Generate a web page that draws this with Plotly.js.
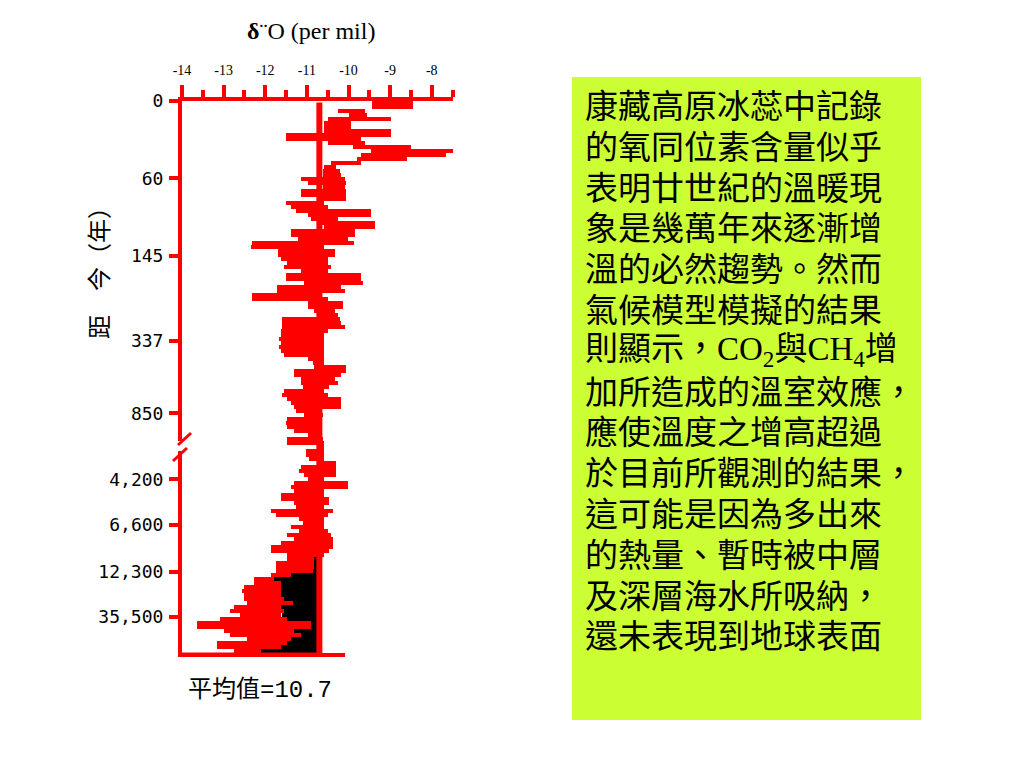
<!DOCTYPE html>
<html><head><meta charset="utf-8">
<script src="https://cdn.plot.ly/plotly-3.0.1.min.js"></script>
<style>html,body{margin:0;padding:0;background:#fff}#chart{width:1024px;height:768px}</style>
</head><body><div id="chart"></div>
<script>
// ---------------- data ----------------
const meanValue = -10.7;
const meanLabel = '平均值=10.7';
const chartTitle = '<b>δ</b>¨O (per mil)';
const yTitle = '距　今（年）';
const xTickValues = [-14, -13, -12, -11, -10, -9, -8];
const xTickLabels = ['-14', '-13', '-12', '-11', '-10', '-9', '-8'];
const ageTickLabels = ['0', '60', '145', '337', '850', '4,200', '6,600', '12,300', '35,500'];
const ageTickRows = [0, 19.3, 38.7, 60, 78.1, 94.6, 106, 117.7, 128.9];

// per depth row: lowest and highest δ18O reached (per mil)
const rowLow = [
 -9.43,-9.43,-10.25,-10.0,-10.5,-10.58,-10.58,-10.58,-11.5,-11.5,
 -10.5,-9.9,-9.45,-9.69,-9.8,-10.42,-10.58,-10.62,-10.62,-11.14,
 -10.98,-10.62,-11.14,-11.14,-10.66,-11.51,-11.39,-11.27,-10.98,-10.9,
 -10.66,-10.58,-11.39,-11.39,-11.22,-12.33,-12.35,-11.7,-11.7,-11.62,
 -11.47,-11.55,-11.14,-11.51,-11.51,-11.06,-11.71,-11.71,-12.31,-12.31,
 -10.98,-10.98,-10.82,-10.74,-11.59,-11.59,-11.59,-11.63,-11.63,-11.67,
 -11.63,-11.67,-11.63,-11.55,-10.98,-10.86,-10.82,-11.3,-11.3,-11.14,
 -11.14,-11.1,-11.55,-11.59,-11.47,-11.39,-11.3,-11.26,-11.06,-11.47,
 -11.51,-11.47,-11.3,-10.98,-11.47,-11.47,-10.74,-11.02,-11.02,-10.94,
 -10.7,-11.14,-11.18,-11.06,-10.98,-11.3,-11.39,-11.3,-11.63,-11.63,
 -11.3,-11.26,-11.87,-11.75,-11.18,-11.1,-11.39,-11.18,-11.47,-11.3,
 -11.63,-11.87,-11.87,-11.47,-11.47,-11.75,-11.75,-11.75,-11.87,-12.27,
 -12.27,-12.51,-12.55,-12.51,-12.51,-12.43,-12.76,-12.84,-12.6,-13.08,
 -13.64,-13.64,-13.0,-12.84,-12.43,-13.16,-13.16,-12.76,-10.7
];
const rowHigh = [
 -8.45,-8.45,-9.6,-9.55,-8.97,-9.93,-9.93,-8.97,-8.97,-9.69,
 -9.6,-8.5,-7.47,-7.65,-8.6,-9.7,-10.3,-10.2,-10.17,-10.09,
 -10.05,-10.09,-10.05,-10.05,-10.05,-10.58,-10.5,-9.45,-9.45,-10.25,
 -9.37,-9.37,-9.85,-9.85,-10.01,-9.86,-10.6,-10.33,-10.33,-10.5,
 -10.5,-10.42,-10.5,-9.69,-9.69,-9.65,-10.17,-10.09,-10.66,-10.5,
 -10.13,-10.13,-10.33,-10.25,-10.21,-10.17,-10.09,-10.5,-10.58,-10.58,
 -10.58,-10.58,-10.58,-10.58,-10.58,-10.58,-10.05,-10.05,-10.17,-10.33,
 -10.25,-10.46,-10.58,-10.5,-10.17,-10.17,-10.17,-10.66,-10.62,-10.66,
 -10.66,-10.66,-10.66,-10.66,-10.62,-10.58,-10.58,-10.58,-10.58,-10.58,
 -10.3,-10.3,-10.3,-10.3,-10.58,-10.01,-10.01,-10.58,-10.58,-10.46,
 -10.46,-10.58,-10.38,-10.5,-10.58,-10.58,-10.58,-10.5,-10.42,-10.38,
 -10.38,-10.38,-10.46,-10.58,-10.82,-10.82,-10.82,-10.86,-11.39,-11.79,
 -11.63,-11.63,-11.63,-11.63,-11.55,-11.34,-11.63,-11.55,-11.63,-11.47,
 -10.9,-10.9,-11.3,-11.14,-11.39,-11.47,-11.63,-12.11,-10.09
];
// black shaded envelope (glacial part), rows starting at blackStartRow
const blackStartRow = 114;
const blackEdge = [
 -10.98,-11.3,-11.45,-11.55,-11.7,-11.8,-11.8,-11.8,-11.75,-11.7,
 -11.7,-11.65,-11.65,-11.6,-11.6,-11.6,-11.6,-11.65,-11.7,-11.8,
 -11.9,-12.0,-12.1,-12.15
];
const textLines = [
 '康藏高原冰蕊中記錄',
 '的氧同位素含量似乎',
 '表明廿世紀的溫暖現',
 '象是幾萬年來逐漸增',
 '溫的必然趨勢。然而',
 '氣候模型模擬的結果',
 '則顯示，CO<sub>2</sub>與CH<sub>4</sub>增',
 '加所造成的溫室效應，',
 '應使溫度之增高超過',
 '於目前所觀測的結果，',
 '這可能是因為多出來',
 '的熱量、暫時被中層',
 '及深層海水所吸納，',
 '還未表現到地球表面'
];

// ---------------- layout helpers ----------------
const PL = 182, PR = 453, PT = 101, PB = 657;
const nRows = rowLow.length;
const px = p => (p - PL) / (PR - PL);
const py = p => (PB - p) / (PB - PT);

const rowsY = rowLow.map((_, i) => i + 0.5);
const blackY = blackEdge.map((_, i) => blackStartRow + i + 0.5);

const traces = [
  {
    type: 'bar', orientation: 'h',
    y: blackY,
    base: blackEdge,
    x: blackEdge.map(v => meanValue - v),
    width: 1,
    marker: {color: '#000000', line: {width: 0}},
    hoverinfo: 'skip', showlegend: false
  },
  {
    type: 'bar', orientation: 'h',
    y: rowsY,
    base: rowLow,
    x: rowLow.map((v, i) => rowHigh[i] - v),
    width: 1,
    marker: {color: '#ff0000', line: {width: 0}},
    hoverinfo: 'skip', showlegend: false
  }
];

const red = '#ff0000';
const shapes = [
  {type: 'rect', xref: 'paper', yref: 'paper', x0: px(572), x1: px(921), y0: py(720), y1: py(77),
   fillcolor: '#ccff33', line: {width: 0}, layer: 'below'},
  {type: 'line', xref: 'x', yref: 'y', x0: meanValue, x1: meanValue, y0: 0.4, y1: nRows,
   line: {color: red, width: 6}},
  {type: 'line', xref: 'x', yref: 'y', x0: -14, x1: meanValue, y0: nRows - 0.5, y1: nRows - 0.5,
   line: {color: red, width: 5}},
  // axis break
  {type: 'rect', xref: 'paper', yref: 'paper', x0: px(175), x1: px(190), y0: py(451), y1: py(441),
   fillcolor: '#ffffff', line: {width: 0}, layer: 'above'},
  {type: 'line', xref: 'paper', yref: 'paper', x0: px(178), y0: py(445), x1: px(191), y1: py(433),
   line: {color: red, width: 3}},
  {type: 'line', xref: 'paper', yref: 'paper', x0: px(173), y0: py(461), x1: px(187), y1: py(448),
   line: {color: red, width: 3}}
];

const annotations = [
  {xref: 'paper', yref: 'paper', x: px(311), y: py(31), text: chartTitle, showarrow: false,
   xanchor: 'center', yanchor: 'middle', font: {family: 'Liberation Serif, serif', size: 24, color: '#000'}},
  {xref: 'paper', yref: 'paper', x: px(97), y: py(267), text: yTitle, showarrow: false, textangle: -90,
   xanchor: 'center', yanchor: 'middle', font: {family: 'Noto Sans CJK TC', size: 24, color: '#000'}},
  {xref: 'paper', yref: 'paper', x: px(186), y: py(690), text: meanLabel, showarrow: false,
   xanchor: 'left', yanchor: 'middle', font: {family: 'Liberation Mono, Noto Sans CJK TC', size: 24, color: '#000'}}
];
const lineTop = 107, lineStep = 40.8;
textLines.forEach((t, i) => {
  annotations.push({xref: 'paper', yref: 'paper', x: px(583), y: py(lineTop + i * lineStep), text: t,
    showarrow: false, xanchor: 'left', yanchor: 'middle',
    font: {family: 'Liberation Serif, Noto Sans CJK TC', size: 33, color: '#000'}});
});

const layout = {
  width: 1024, height: 768,
  margin: {l: PL, r: 1024 - PR, t: PT, b: 768 - PB, pad: 0},
  paper_bgcolor: '#fff', plot_bgcolor: '#fff',
  barmode: 'overlay', bargap: 0, showlegend: false,
  xaxis: {
    side: 'top', range: [-14, -7.49], autorange: false,
    tickmode: 'array', tickvals: xTickValues, ticktext: xTickLabels,
    ticks: 'outside', ticklen: 12, tickwidth: 4, tickcolor: red,
    minor: {dtick: 0.5, tick0: -14, ticks: 'outside', ticklen: 7, tickwidth: 4, tickcolor: red, showgrid: false},
    showline: true, linecolor: red, linewidth: 4,
    showgrid: false, zeroline: false,
    tickfont: {family: 'Liberation Serif, serif', size: 14, color: '#000'},
    ticklabelstandoff: 4
  },
  yaxis: {
    range: [nRows, 0], autorange: false,
    tickmode: 'array', tickvals: ageTickRows, ticktext: ageTickLabels,
    ticks: 'outside', ticklen: 9, tickwidth: 4, tickcolor: red,
    showline: true, linecolor: red, linewidth: 4,
    showgrid: false, zeroline: false,
    tickfont: {family: 'DejaVu Sans Mono, monospace', size: 18, color: '#000'},
    ticklabelstandoff: 2
  },
  shapes: shapes,
  annotations: annotations
};

Plotly.newPlot('chart', traces, layout, {staticPlot: true, displayModeBar: false});
</script>
</body></html>
